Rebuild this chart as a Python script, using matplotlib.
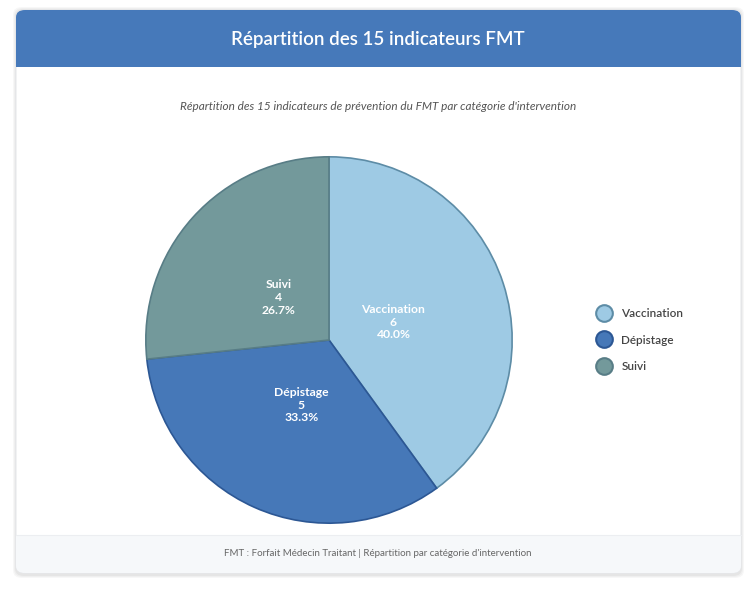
import numpy as np
import matplotlib.pyplot as plt
from matplotlib.patches import FancyBboxPatch, Rectangle
from matplotlib.lines import Line2D

plt.rcParams['font.family'] = ['Lato', 'DejaVu Sans']

categories = ['Vaccination', 'Dépistage', 'Suivi']
counts = [6, 5, 4]
colors = ['#9ecae4', '#4678b8', '#73999b']
edges = ['#5d8ca6', '#2c5794', '#587d86']

title = 'Répartition des 15 indicateurs FMT'
subtitle = "Répartition des 15 indicateurs de prévention du FMT par catégorie d'intervention"
footer = "FMT : Forfait Médecin Traitant | Répartition par catégorie d'intervention"

W, H = 756, 607
fig = plt.figure(figsize=(W / 100, H / 100), dpi=100)
fig.patch.set_facecolor('white')

def fx(x):
    return x / W

def fy(y):
    return 1 - y / H

# card shadow + card
for i, a in enumerate([0.03, 0.03, 0.04]):
    off = 3 - i
    sh = FancyBboxPatch((fx(16 - off), fy(575 + off)), fx(725 + 2 * off), (565 + 2 * off) / H,
                        boxstyle='round,pad=0,rounding_size=0.012', transform=fig.transFigure,
                        facecolor='black', edgecolor='none', alpha=a, zorder=0)
    fig.patches.append(sh)
card = FancyBboxPatch((fx(16), fy(573)), fx(725), 563 / H,
                      boxstyle='round,pad=0,rounding_size=0.012', transform=fig.transFigure,
                      facecolor='white', edgecolor='#e6e8eb', lw=0.8, zorder=1)
fig.patches.append(card)

# header
hdr = FancyBboxPatch((fx(16), fy(67)), fx(725), 57 / H,
                     boxstyle='round,pad=0,rounding_size=0.012', transform=fig.transFigure,
                     facecolor='#4679ba', edgecolor='none', zorder=2)
fig.patches.append(hdr)
fig.patches.append(Rectangle((fx(16), fy(67)), fx(725), 20 / H, transform=fig.transFigure,
                             facecolor='#4679ba', edgecolor='none', zorder=2))

# footer band
ftr = FancyBboxPatch((fx(16), fy(573)), fx(725), 38 / H,
                     boxstyle='round,pad=0,rounding_size=0.012', transform=fig.transFigure,
                     facecolor='#f6f8fa', edgecolor='none', zorder=2)
fig.patches.append(ftr)
fig.patches.append(Rectangle((fx(16), fy(555)), fx(725), 20 / H, transform=fig.transFigure,
                             facecolor='#f6f8fa', edgecolor='none', zorder=2))
fig.add_artist(Line2D([fx(16), fx(741)], [fy(535), fy(535)], color='#eceef1', lw=0.8, zorder=3))

fig.text(fx(378), fy(40), title, color='white', fontsize=13.5, fontweight='semibold',
         ha='center', va='center', zorder=4)
fig.text(fx(378), fy(107), subtitle, color='#555555', fontsize=8.5, style='italic',
         ha='center', va='center', zorder=4)
fig.text(fx(378), fy(554), footer, color='#666666', fontsize=7, ha='center', va='center', zorder=4)

# pie
cx, cy, r = 329, 340, 185
ax = fig.add_axes([fx(cx - r), fy(cy + r), 2 * r / W, 2 * r / H], zorder=5)
ax.set_facecolor('none')
total = sum(counts)
wedges, _ = ax.pie(counts, colors=colors, startangle=90, counterclock=False, radius=1,
                   wedgeprops=dict(linewidth=1.2))
for w, ec in zip(wedges, edges):
    w.set_edgecolor(ec)

start = 90
for cat, n in zip(categories, counts):
    ang = start - 360 * n / total / 2
    start -= 360 * n / total
    d = 0.37
    x, y = d * np.cos(np.radians(ang)), d * np.sin(np.radians(ang)) - 0.017
    ax.text(x, y, f'{cat}\n{n}\n{100 * n / total:.1f}%', color='white', fontsize=8.7,
            fontweight='bold', ha='center', va='center', linespacing=1.2)
ax.set_xlim(-1.01, 1.01)
ax.set_ylim(-1.01, 1.01)

handles = [Line2D([], [], marker='o', linestyle='none', markersize=12,
                  markerfacecolor=c, markeredgecolor=e, markeredgewidth=1.5)
           for c, e in zip(colors, edges)]
fig.legend(handles, categories, loc='center left', bbox_to_anchor=(fx(587), fy(340)),
           frameon=False, prop=dict(size=8.5, weight='semibold'), labelspacing=1.3,
           handletextpad=1.0, labelcolor='#444444', handlelength=1.0)

fig.savefig('out.png', dpi=100)
